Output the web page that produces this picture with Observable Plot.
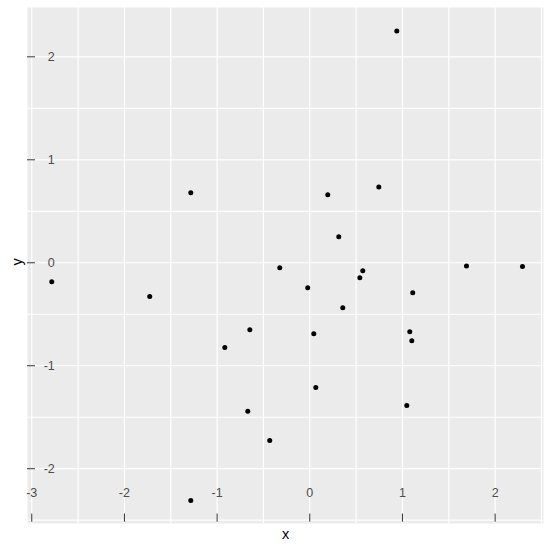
<!DOCTYPE html>
<html><head><meta charset="utf-8">
<script src="https://cdn.jsdelivr.net/npm/d3@7"></script>
<script src="https://cdn.jsdelivr.net/npm/@observablehq/plot@0.6"></script>
<style>body{margin:0;background:#fff}</style></head>
<body><div id="chart"></div>
<script>
const xValues = [-2.784, -1.727, -1.284, -1.284, -0.917, -0.647, -0.669, -0.432, -0.324, -0.022, 0.043, 0.065, 0.194, 0.313, 0.356, 0.540, 0.572, 0.745, 0.939, 1.047, 1.079, 1.101, 1.111, 1.691, 2.295];
const yValues = [-0.184, -0.327, 0.679, -2.308, -0.824, -0.650, -1.443, -1.726, -0.048, -0.242, -0.689, -1.212, 0.660, 0.252, -0.436, -0.145, -0.078, 0.737, 2.250, -1.387, -0.669, -0.757, -0.291, -0.031, -0.036];
const xTicks = [-3, -2, -1, 0, 1, 2];
const yTicks = [-2, -1, 0, 1, 2];
const xGrid = [-3, -2.5, -2, -1.5, -1, -0.5, 0, 0.5, 1, 1.5, 2, 2.5];
const yGrid = [-2.5, -2, -1.5, -1, -0.5, 0, 0.5, 1, 1.5, 2];
const xDomain = [-3.046, 2.522];
const yDomain = [-2.532, 2.479];
const points = xValues.map((x, i) => ({x, y: yValues[i]}));

const chart = Plot.plot({
  width: 553, height: 552,
  marginLeft: 27, marginRight: 10, marginTop: 7, marginBottom: 29,
  x: {domain: xDomain, axis: null},
  y: {domain: yDomain, axis: null},
  style: {fontFamily: "'Liberation Sans', Arial, sans-serif", background: "white"},
  marks: [
    Plot.frame({fill: "#EBEBEB", stroke: null}),
    Plot.ruleX(xGrid, {stroke: "white", strokeWidth: 1.2}),
    Plot.ruleY(yGrid, {stroke: "white", strokeWidth: 1.2}),
    Plot.ruleY(yTicks, {x1: xDomain[0], x2: -2.96, stroke: "#333", strokeWidth: 1}),
    Plot.text(yTicks, {x: -3, y: d => d, text: d => String(d), textAnchor: "end", dx: 23, fill: "#4D4D4D", fontSize: 12.5}),
    Plot.ruleX(xTicks, {y1: -2.44, y2: -2.52, stroke: "#333", strokeWidth: 1}),
    Plot.text(xTicks, {x: d => d, y: -2.48, dy: -25, text: d => String(d), fill: "#4D4D4D", fontSize: 12.5}),
    Plot.dot(points, {x: "x", y: "y", r: 2.5, fill: "black", stroke: null}),
    Plot.text(["x"], {frameAnchor: "bottom", dy: 15, text: d => d, fontSize: 14.5, fill: "black"}),
    Plot.text(["y"], {frameAnchor: "left", dx: -10, text: d => d, rotate: -90, fontSize: 14.5, fill: "black"})
  ]
});
document.getElementById("chart").appendChild(chart);
</script>
</body></html>
